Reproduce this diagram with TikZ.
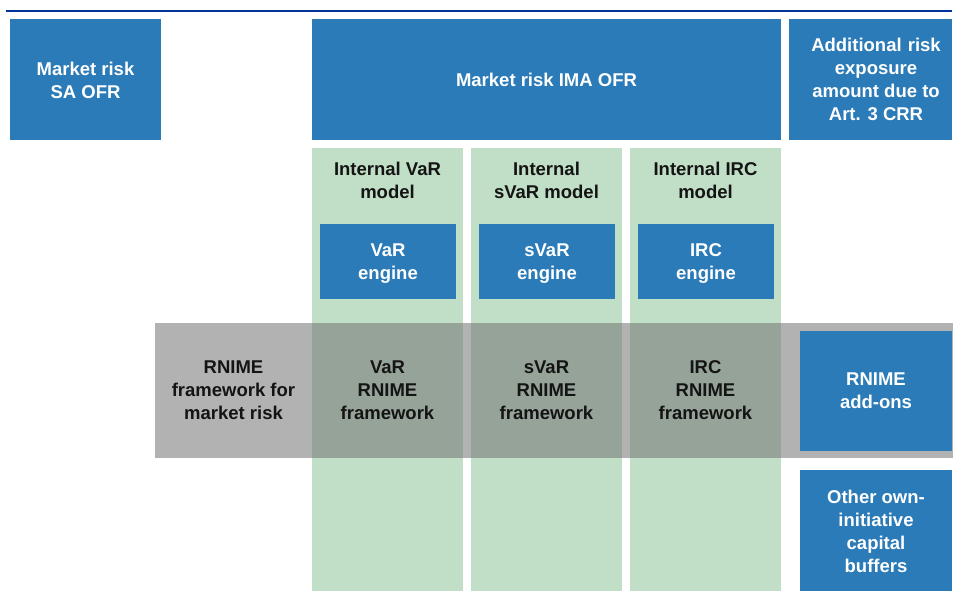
\documentclass[tikz,border=0pt]{standalone}
\usepackage{fontspec}
\setmainfont{Liberation Sans}
\begin{document}
\begin{tikzpicture}[x=1pt,y=-1pt,
  txt/.style={font=\bfseries\fontsize{18.5}{23}\selectfont, align=center, inner sep=0pt},
  bluebox/.style={fill=boxblue, draw=none, text=white, txt},
  modelcol/.style={fill=colgreen, draw=none},
  darktxt/.style={txt, text=black!92}]
\definecolor{boxblue}{HTML}{2A7BB7}
\definecolor{colgreen}{HTML}{C1DFC6}
\definecolor{rule}{HTML}{003399}
\definecolor{bandgray}{HTML}{737373}
\useasboundingbox (0,0) rectangle (953,599);

% header rule
\draw[rule, line width=2.2pt] (6,11) -- (952,11);

% top row of own-funds requirement boxes
\path[fill=boxblue] (10,19) rectangle (161,140);
\node[bluebox] (sa) at (85.5,80) {Market risk\\SA OFR};
\path[fill=boxblue] (312,19) rectangle (781,140);
\node[bluebox] (ima) at (546.5,80) {Market risk IMA OFR};
\path[fill=boxblue] (789,19) rectangle (952,140);
\node[bluebox] (art3) at (876,79) {Additional\,\,risk\\exposure\\amount due to\\Art. 3 CRR};

% internal model columns
\path[modelcol] (312,148) rectangle (463,591);
\path[modelcol] (471,148) rectangle (622,591);
\path[modelcol] (630,148) rectangle (781,591);
\node[darktxt] (mvar)  at (387.5,180) {Internal VaR\\model};
\node[darktxt] (msvar) at (546.5,180) {Internal\\sVaR model};
\node[darktxt] (mirc)  at (705.5,180) {Internal IRC\\model};

% engines
\path[fill=boxblue] (320,224) rectangle (456,299);
\node[bluebox] (evar) at (388,263.5) {VaR\\engine};
\path[fill=boxblue] (479,224) rectangle (615,299);
\node[bluebox] (esvar) at (547,263.5) {sVaR\\engine};
\path[fill=boxblue] (638,224) rectangle (774,299);
\node[bluebox] (eirc) at (706,263.5) {IRC\\engine};

% RNIME band across the columns
\path[fill=bandgray, fill opacity=0.55] (155,323) rectangle (953,458);
\node[darktxt] (rmr)   at (233.5,390) {RNIME\\framework for\\market risk};
\node[darktxt] (rvar)  at (387.5,390) {VaR\\RNIME\\framework};
\node[darktxt] (rsvar) at (546.5,390) {sVaR\\RNIME\\framework};
\node[darktxt] (rirc)  at (705.5,390) {IRC\\RNIME\\framework};

% add-ons and buffers
\path[fill=boxblue] (800,331) rectangle (952,451);
\node[bluebox] (addon) at (876,391) {RNIME\\add-ons};
\path[fill=boxblue] (800,470) rectangle (952,591);
\node[bluebox] (buf) at (876,531) {Other own-\\initiative\\capital\\buffers};
\end{tikzpicture}
\end{document}
